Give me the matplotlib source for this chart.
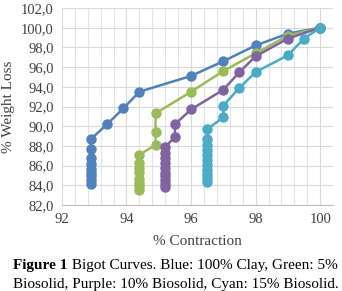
import matplotlib
matplotlib.use('Agg')
import matplotlib.pyplot as plt
from matplotlib.ticker import MultipleLocator, FuncFormatter

# Bigot curves: % contraction (x) vs % weight loss (y)
clay_x = [92.9, 92.9, 92.9, 92.9, 92.9, 92.9, 92.9, 92.9, 92.9, 93.4, 93.9, 94.4, 96.0, 97.0, 98.0, 99.0, 100.0]
clay_y = [84.1, 84.5, 84.9, 85.3, 85.7, 86.2, 86.8, 87.7, 88.7, 90.2, 91.8, 93.5, 95.1, 96.6, 98.2, 99.4, 100.0]

bio5_x = [94.4, 94.4, 94.4, 94.4, 94.4, 94.4, 94.4, 94.4, 94.9, 94.9, 94.9, 96.0, 97.0, 98.0, 99.0, 100.0]
bio5_y = [83.5, 83.9, 84.2, 84.6, 85.4, 85.8, 86.3, 87.1, 88.1, 89.4, 91.3, 93.5, 95.6, 97.4, 99.2, 100.0]

bio10_x = [95.2, 95.2, 95.2, 95.2, 95.2, 95.2, 95.2, 95.2, 95.2, 95.2, 95.5, 95.5, 96.0, 97.0, 97.5, 98.0, 99.0, 100.0]
bio10_y = [83.8, 84.1, 84.5, 84.9, 85.3, 85.8, 86.3, 86.8, 87.3, 87.9, 88.9, 90.2, 91.7, 93.7, 95.5, 97.1, 98.9, 100.0]

bio15_x = [96.5, 96.5, 96.5, 96.5, 96.5, 96.5, 96.5, 96.5, 96.5, 96.5, 96.5, 97.0, 97.0, 97.5, 98.0, 99.0, 99.5, 100.0]
bio15_y = [84.3, 84.7, 85.1, 85.6, 86.1, 86.6, 87.1, 87.6, 88.1, 88.7, 89.7, 90.9, 92.1, 93.9, 95.5, 97.2, 98.9, 100.0]

series = [(clay_x, clay_y, '#4F81BD'),
          (bio5_x, bio5_y, '#9BBB59'),
          (bio10_x, bio10_y, '#8064A2'),
          (bio15_x, bio15_y, '#4BACC6')]

plt.rcParams['font.family'] = ['Liberation Serif', 'DejaVu Serif']

fig = plt.figure(figsize=(3.42, 2.91), dpi=100)
ax = fig.add_axes([0.181, 0.2955, 0.793, 0.677])

for xs, ys, col in series:
    ax.plot(xs, ys, color=col, lw=1.8, marker='o', ms=6.5, mec=col, mfc=col)

ax.set_xlim(92, 100.4)
ax.set_ylim(82, 102)
ax.xaxis.set_major_locator(MultipleLocator(2))
ax.xaxis.set_minor_locator(MultipleLocator(0.4))
ax.yaxis.set_major_locator(MultipleLocator(2))
ax.yaxis.set_major_formatter(FuncFormatter(lambda v, p: ('%.1f' % v).replace('.', ',')))

ax.grid(which='major', color='#D9D9D9', lw=0.8)
ax.grid(which='minor', axis='x', color='#E3E3E3', lw=0.8)
ax.set_axisbelow(True)
for s in ['top', 'right', 'left']:
    ax.spines[s].set_visible(False)
ax.spines['bottom'].set_color('#BFBFBF')
ax.tick_params(which='both', length=0, labelsize=10.5, colors='#404040', pad=6)

ax.set_xlabel('% Contraction', fontsize=11, color='#404040', labelpad=6)
ax.set_ylabel('% Weight Loss', fontsize=11, color='#404040', labelpad=4)

t1 = fig.text(13/342, 1 - 269/291, 'Figure 1', fontsize=11, fontweight='bold', ha='left', va='baseline')
fig.canvas.draw()
ax.annotate(' Bigot Curves. Blue: 100% Clay, Green: 5%', xy=(1, 0), xycoords=t1,
            fontsize=11, ha='left', va='bottom')
fig.text(13/342, 1 - 288/291, 'Biosolid, Purple: 10% Biosolid, Cyan: 15% Biosolid.',
         fontsize=11, ha='left', va='baseline')

fig.savefig('out.png', dpi=100)
